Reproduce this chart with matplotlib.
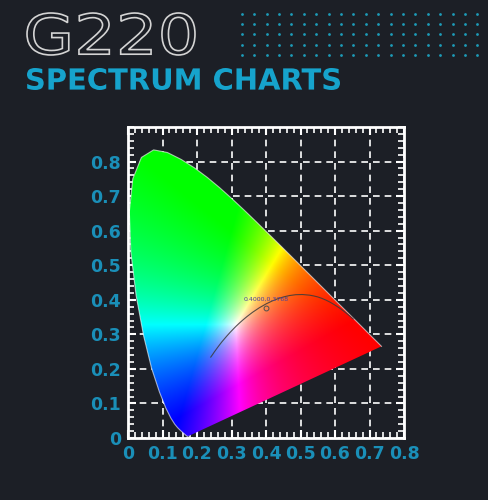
import numpy as np
import matplotlib
matplotlib.use('Agg')
import matplotlib.pyplot as plt
from matplotlib.patches import Polygon, PathPatch
from matplotlib.textpath import TextPath
from matplotlib.font_manager import FontProperties
from matplotlib.transforms import Affine2D
from matplotlib.ticker import MultipleLocator, FixedLocator

# CIE 1931 2 deg spectral locus, 380..700 nm in 5 nm steps
locus_x = [0.1741, 0.1740, 0.1738, 0.1736, 0.1733, 0.1730, 0.1726, 0.1721,
           0.1714, 0.1703, 0.1689, 0.1669, 0.1644, 0.1611, 0.1566, 0.1510,
           0.1440, 0.1355, 0.1241, 0.1096, 0.0913, 0.0687, 0.0454, 0.0235,
           0.0082, 0.0039, 0.0139, 0.0389, 0.0743, 0.1142, 0.1547, 0.1929,
           0.2296, 0.2658, 0.3016, 0.3373, 0.3731, 0.4087, 0.4441, 0.4788,
           0.5125, 0.5448, 0.5752, 0.6029, 0.6270, 0.6482, 0.6658, 0.6801,
           0.6915, 0.7006, 0.7079, 0.7140, 0.7190, 0.7230, 0.7260, 0.7283,
           0.7300, 0.7311, 0.7320, 0.7327, 0.7334, 0.7340, 0.7344, 0.7346,
           0.7347]
locus_y = [0.0050, 0.0050, 0.0049, 0.0049, 0.0048, 0.0048, 0.0048, 0.0048,
           0.0051, 0.0058, 0.0069, 0.0086, 0.0109, 0.0138, 0.0177, 0.0227,
           0.0297, 0.0399, 0.0578, 0.0868, 0.1327, 0.2007, 0.2950, 0.4127,
           0.5384, 0.6548, 0.7502, 0.8120, 0.8338, 0.8262, 0.8059, 0.7816,
           0.7543, 0.7243, 0.6923, 0.6589, 0.6245, 0.5896, 0.5547, 0.5202,
           0.4866, 0.4544, 0.4242, 0.3965, 0.3725, 0.3514, 0.3340, 0.3197,
           0.3083, 0.2993, 0.2920, 0.2859, 0.2809, 0.2770, 0.2740, 0.2717,
           0.2700, 0.2689, 0.2680, 0.2673, 0.2666, 0.2660, 0.2656, 0.2654,
           0.2653]

# planckian locus, 1000 K .. infinity
planck_x = [0.6527, 0.6387, 0.6250, 0.6116, 0.5985, 0.5857, 0.5732, 0.5611,
            0.5492, 0.5378, 0.5267, 0.5056, 0.4862, 0.4685, 0.4525, 0.4369,
            0.4174, 0.4001, 0.3805, 0.3608, 0.3451, 0.3325, 0.3221, 0.3135,
            0.3064, 0.2952, 0.2869, 0.2807, 0.2718, 0.2637, 0.2565, 0.2501,
            0.2450, 0.2399]
planck_y = [0.3445, 0.3565, 0.3675, 0.3772, 0.3856, 0.3931, 0.3993, 0.4044,
            0.4085, 0.4112, 0.4133, 0.4152, 0.4147, 0.4123, 0.4087, 0.4041,
            0.3963, 0.3880, 0.3768, 0.3636, 0.3516, 0.3411, 0.3318, 0.3237,
            0.3166, 0.3048, 0.2956, 0.2884, 0.2779, 0.2674, 0.2577, 0.2489,
            0.2413, 0.2342]

point_x, point_y = 0.4000, 0.3768
point_label = '0.4000,0.3768'

x_ticks = [0, 0.1, 0.2, 0.3, 0.4, 0.5, 0.6, 0.7, 0.8]
x_labels = ['0', '0.1', '0.2', '0.3', '0.4', '0.5', '0.6', '0.7', '0.8']
y_ticks = [0, 0.1, 0.2, 0.3, 0.4, 0.5, 0.6, 0.7, 0.8]
y_labels = ['0', '0.1', '0.2', '0.3', '0.4', '0.5', '0.6', '0.7', '0.8']

title_text = 'G220'
subtitle_text = 'SPECTRUM CHARTS'

BG = '#1c1f26'
CYAN = '#16a3cc'
TICK_CYAN = '#1a8fb8'

fig = plt.figure(figsize=(4.89, 5.0), dpi=100, facecolor=BG)

# header decoration, drawn in pixel coords (y down)
deco = fig.add_axes([0, 0, 1, 1], zorder=0)
deco.set_xlim(0, 489)
deco.set_ylim(500, 0)
deco.axis('off')
dx, dy = np.meshgrid(241.7 + 12.4 * np.arange(20), 13.5 + 10.4 * np.arange(5))
deco.scatter(dx.ravel(), dy.ravel(), s=4, color='#1c9bb8', linewidths=0)


def fitted_text(s, box, weight='normal'):
    # text outline stretched to fill a pixel box (x0, top, x1, baseline)
    tp = TextPath((0, 0), s, size=1,
                  prop=FontProperties(family='DejaVu Sans', weight=weight))
    bb = tp.get_extents()
    x0, top, x1, base = box
    tr = (Affine2D().translate(-bb.x0, -bb.y0)
          .scale((x1 - x0) / bb.width, -(base - top) / bb.height)
          .translate(x0, base))
    return tr.transform_path(tp)


deco.add_patch(PathPatch(fitted_text(title_text, (27, 13, 195, 55)),
                         facecolor='none', edgecolor='#d4d4d4', lw=1.2))
deco.add_patch(PathPatch(fitted_text(subtitle_text, (27, 68, 340, 90), 'bold'),
                         facecolor=CYAN, edgecolor='none'))

ax = fig.add_axes([128 / 489, 62 / 500, 276 / 489, 311 / 500], zorder=1)
ax.set_facecolor(BG)
ax.set_xlim(0, 0.8)
ax.set_ylim(0, 0.9)

# colour fill of the horseshoe
gx = np.linspace(0, 0.8, 800)
gy = np.linspace(0.0005, 0.9, 900)
xx, yy = np.meshgrid(gx, gy)
XYZ = np.stack([xx / yy, np.ones_like(xx), (1 - xx - yy) / yy], axis=-1)
M = np.array([[3.2406, -1.5372, -0.4986],
              [-0.9689, 1.8758, 0.0415],
              [0.0557, -0.2040, 1.0570]])
rgb = np.clip(XYZ @ M.T, 0, None)
rgb = rgb / np.maximum(rgb.max(axis=-1, keepdims=True), 1e-9)
rgb = np.clip(rgb, 0, 1)
im = ax.imshow(rgb, extent=(0, 0.8, 0.0005, 0.9), origin='lower',
               aspect='auto', interpolation='bilinear', zorder=2)
horseshoe = Polygon(np.column_stack([locus_x, locus_y]), closed=True,
                    facecolor='none', edgecolor='none')
ax.add_patch(horseshoe)
im.set_clip_path(horseshoe)
ax.plot(locus_x, locus_y, color='white', lw=0.8, alpha=0.6, zorder=3)

ax.plot(planck_x, planck_y, color='#3a3a3a', lw=0.8, alpha=0.85, zorder=4)
ax.plot(point_x, point_y, marker='o', ms=3.5, mfc='none', mec='#505050',
        mew=0.7, zorder=5)
ax.text(point_x, point_y + 0.018, point_label, fontsize=4.5,
        color='#4a3fa0', ha='center', va='bottom', zorder=5)

# frame, ticks, grid
for s in ax.spines.values():
    s.set_color('white')
    s.set_linewidth(2)
ax.xaxis.set_major_locator(FixedLocator(x_ticks))
ax.set_xticklabels(x_labels)
ax.yaxis.set_major_locator(FixedLocator(y_ticks))
ax.set_yticklabels(y_labels)
ax.xaxis.set_minor_locator(MultipleLocator(0.02))
ax.yaxis.set_minor_locator(MultipleLocator(0.02))
ax.tick_params(which='both', direction='in', top=True, right=True,
               colors='white')
ax.tick_params(which='major', length=6, width=1.5)
ax.tick_params(which='minor', length=4.5, width=1.2)
ax.tick_params(axis='both', which='major', labelcolor=TICK_CYAN,
               labelsize=12.5, pad=5)
for lab in ax.get_xticklabels() + ax.get_yticklabels():
    lab.set_fontweight('bold')
ax.grid(True, which='major', color='white', linestyle=(0, (4, 3)),
        linewidth=1.2, zorder=1)
ax.set_axisbelow(True)

fig.savefig('out.png', dpi=100, facecolor=BG)
